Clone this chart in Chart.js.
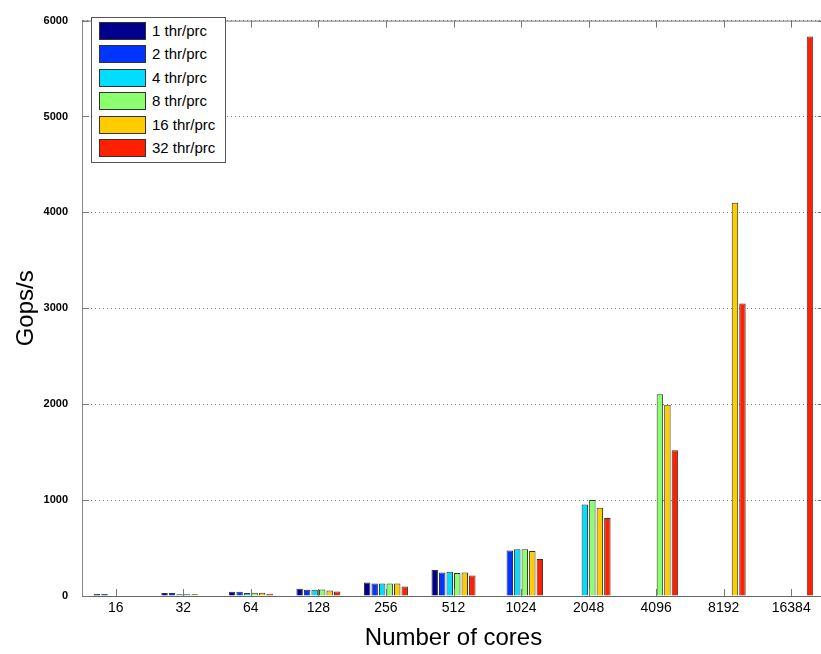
<!DOCTYPE html>
<html>
<head>
<meta charset="utf-8">
<script src="https://cdn.jsdelivr.net/npm/chart.js"></script>
<style>
  body { margin: 0; overflow: hidden; background: #fff; }
  #wrap { position: relative; width: 826px; height: 654px; }
  #legend {
    position: absolute; left: 91px; top: 17px; width: 133px; height: 144px;
    border: 1px solid #555; background: #fff;
    font: 15px "Liberation Sans", Arial, sans-serif; color: #000;
  }
  .row { position: absolute; left: 7px; height: 18px; }
  .sw { position: absolute; left: 0; top: 0; width: 45px; height: 16px; border: 1px solid #333; }
  .lb { position: absolute; left: 53px; top: 0; line-height: 18px; white-space: nowrap; }
</style>
</head>
<body>
<div id="wrap">
  <canvas id="chart" width="826" height="654"></canvas>
  <div id="legend"></div>
</div>
<script>
// data
var cores = ['16', '32', '64', '128', '256', '512', '1024', '2048', '4096', '8192', '16384'];
var seriesNames = ['1 thr/prc', '2 thr/prc', '4 thr/prc', '8 thr/prc', '16 thr/prc', '32 thr/prc'];
var thr1  = [20, 30, 44, 75, 140, 272, null, null, null, null, null];
var thr2  = [20, 30, 44, 65, 130, 244, 475, null, null, null, null];
var thr4  = [null, 18, 31, 65, 130, 254, 488, 953, null, null, null];
var thr8  = [null, 18, 34, 68, 130, 241, 488, 1000, 2105, null, null];
var thr16 = [null, 18, 34, 58, 130, 244, 468, 919, 1995, 4100, null];
var thr32 = [null, null, 24, 48, 100, 214, 387, 814, 1519, 3050, 5835];
var yTicks = [0, 1000, 2000, 3000, 4000, 5000, 6000];

var colors = ['#00008c', '#0035ff', '#00ddff', '#8cff6e', '#ffcc00', '#ff2000'];
var values = [thr1, thr2, thr4, thr8, thr16, thr32];

var datasets = values.map(function(v, i) {
  return {
    label: seriesNames[i],
    data: v,
    backgroundColor: colors[i],
    borderColor: '#333',
    borderWidth: 1,
    categoryPercentage: 0.667,
    barPercentage: 0.86
  };
});

// matlab style box: top line + inside ticks
var boxTicks = {
  id: 'boxTicks',
  afterDraw: function(chart) {
    var ctx = chart.ctx, a = chart.chartArea;
    var xs = chart.scales.x, ys = chart.scales.y;
    ctx.save();
    ctx.strokeStyle = '#777';
    ctx.lineWidth = 1;
    ctx.beginPath();
    ctx.moveTo(a.left, a.top + 0.5);
    ctx.lineTo(a.right, a.top + 0.5);
    for (var i = 0; i < cores.length; i++) {
      var x = Math.round(xs.getPixelForTick(i)) + 0.5;
      ctx.moveTo(x, a.bottom);
      ctx.lineTo(x, a.bottom - 7);
      ctx.moveTo(x, a.top);
      ctx.lineTo(x, a.top + 7);
    }
    yTicks.forEach(function(t) {
      var y = Math.round(ys.getPixelForValue(t)) + 0.5;
      ctx.moveTo(a.left, y);
      ctx.lineTo(a.left + 7, y);
      ctx.moveTo(a.right, y);
      ctx.lineTo(a.right - 7, y);
    });
    ctx.stroke();
    ctx.restore();
  }
};

var ctx = document.getElementById('chart').getContext('2d');
var chart = new Chart(ctx, {
  type: 'bar',
  data: { labels: cores, datasets: datasets },
  options: {
    responsive: false,
    animation: false,
    layout: { padding: { top: 9, right: 1, left: 0, bottom: 0 } },
    plugins: {
      legend: { display: false },
      tooltip: { enabled: false }
    },
    scales: {
      x: {
        grid: { display: false, drawTicks: false },
        border: { color: '#666', width: 1 },
        ticks: {
          color: '#000', padding: 4,
          font: { family: '"Liberation Sans", Arial, sans-serif', size: 14 }
        },
        title: {
          display: true, text: 'Number of cores', color: '#000',
          font: { family: '"Liberation Sans", Arial, sans-serif', size: 24 },
          padding: { top: 0, bottom: 1 }
        },
        afterFit: function(s) { s.height = 58; }
      },
      y: {
        min: 0, max: 6000,
        afterBuildTicks: function(s) { s.ticks = yTicks.map(function(v) { return { value: v }; }); },
        grid: { color: '#777', drawTicks: false },
        border: { color: '#888', width: 1, dash: [1, 3] },
        ticks: {
          color: '#000', padding: 14,
          font: { family: '"Liberation Sans", Arial, sans-serif', size: 11, weight: 'bold' },
          callback: function(v) { return String(v); }
        },
        title: {
          display: true, text: 'Gops/s', color: '#000',
          font: { family: '"Liberation Sans", Arial, sans-serif', size: 24 },
          padding: { top: 12, bottom: 0 }
        },
        afterFit: function(s) { s.width = 82; }
      }
    }
  },
  plugins: [boxTicks]
});

// legend box drawn over the plot, built from the datasets
var leg = document.getElementById('legend');
chart.data.datasets.forEach(function(ds, i) {
  var row = document.createElement('div');
  row.className = 'row';
  row.style.top = (4 + i * 23.4) + 'px';
  row.innerHTML = '<div class="sw" style="background:' + ds.backgroundColor + '"></div>' +
                  '<div class="lb">' + ds.label + '</div>';
  leg.appendChild(row);
});
</script>
</body>
</html>
